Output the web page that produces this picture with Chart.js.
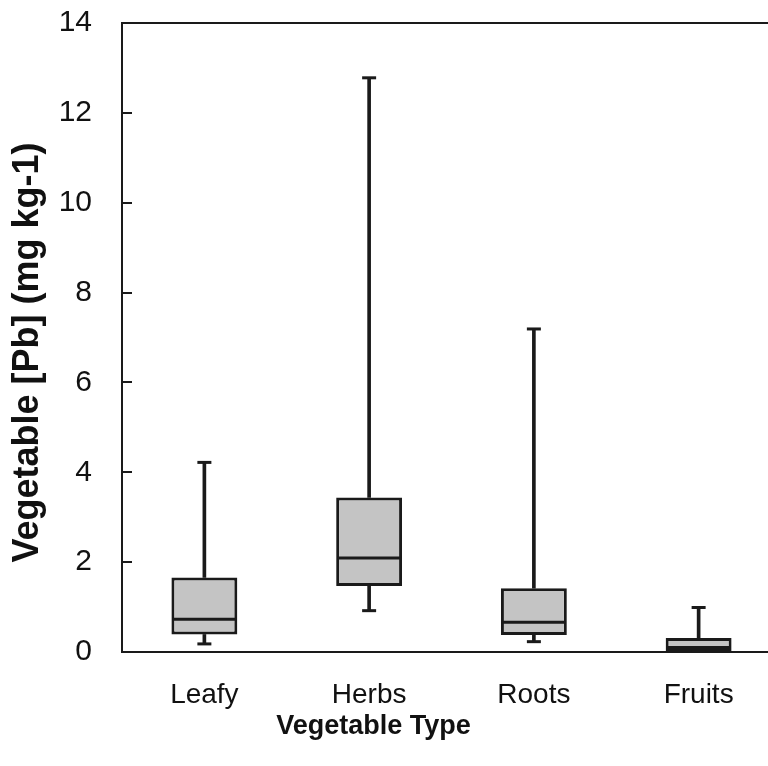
<!DOCTYPE html>
<html>
<head>
<meta charset="utf-8">
<script src="https://cdn.jsdelivr.net/npm/chart.js@4"></script>
<style>
  body { margin: 0; overflow: hidden; background: #fff; }
  #wrap { position: relative; width: 768px; height: 766px; overflow: hidden; }
  #xTitle {
    position: absolute; left: 0; width: 747px; top: 712px;
    text-align: center; font: bold 27px "Liberation Sans", Arial, sans-serif;
    line-height: 27px; color: #111;
  }
</style>
</head>
<body>
<div id="wrap">
  <canvas id="chart" width="781" height="766"></canvas>
  <div id="xTitle">Vegetable Type</div>
</div>
<script>
// box plot values
const categories = ["Leafy", "Herbs", "Roots", "Fruits"];
const whiskerMin = [0.18, 0.92, 0.23, 0.0];
const q1 = [0.39, 1.47, 0.38, 0.01];
const median = [0.73, 2.09, 0.66, 0.1];
const q3 = [1.66, 3.44, 1.42, 0.31];
const whiskerMax = [4.22, 12.78, 7.19, 0.99];
const yTicks = [0, 2, 4, 6, 8, 10, 12, 14];

const ink = "#1a1a1a";
const fontFamily = '"Liberation Sans", Arial, sans-serif';

// inward tick marks on the y axis and the top frame line
const framePlugin = {
    id: "frame",
    afterDraw(chart) {
        let ctx = chart.ctx;
        let area = chart.chartArea;
        let y = chart.scales.y;
        ctx.save();
        ctx.strokeStyle = ink;
        ctx.lineWidth = 2;
        ctx.beginPath();
        y.ticks.forEach(function (t) {
            let py = Math.round(y.getPixelForValue(t.value));
            ctx.moveTo(area.left, py);
            ctx.lineTo(area.left + 10, py);
        });
        ctx.moveTo(area.left - 1, area.top);
        ctx.lineTo(area.right, area.top);
        ctx.stroke();
        ctx.restore();
    }
};

let ctx = document.getElementById("chart").getContext("2d");

new Chart(ctx, {
    type: "bar",
    data: {
        labels: categories,
        datasets: [
            {
                label: "Box",
                data: categories.map((c, i) => [q1[i], q3[i]]),
                backgroundColor: "#c4c4c4",
                borderColor: ink,
                borderWidth: 3,
                borderSkipped: false,
                barPercentage: 0.4,
                categoryPercentage: 1,
                grouped: false,
                order: 2
            },
            {
                label: "Upper whisker",
                data: categories.map((c, i) => [q3[i], whiskerMax[i]]),
                backgroundColor: ink,
                borderWidth: 0,
                barThickness: 3,
                grouped: false,
                order: 3
            },
            {
                label: "Lower whisker",
                data: categories.map((c, i) => [whiskerMin[i], q1[i]]),
                backgroundColor: ink,
                borderWidth: 0,
                barThickness: 3,
                grouped: false,
                order: 3
            },
            {
                type: "line",
                label: "Max",
                data: whiskerMax,
                showLine: false,
                pointStyle: "line",
                pointRadius: 7,
                pointBorderWidth: 3,
                pointBorderColor: ink,
                order: 1
            },
            {
                type: "line",
                label: "Min",
                data: whiskerMin,
                showLine: false,
                pointStyle: "line",
                pointRadius: 7,
                pointBorderWidth: 3,
                pointBorderColor: ink,
                order: 1
            },
            {
                type: "line",
                label: "Median",
                data: median,
                showLine: false,
                pointStyle: "line",
                pointRadius: 32,
                pointBorderWidth: 3,
                pointBorderColor: ink,
                order: 0
            }
        ]
    },
    options: {
        responsive: false,
        animation: false,
        devicePixelRatio: 1,
        layout: { autoPadding: false, padding: { top: 23, left: 0, right: 0, bottom: 0 } },
        plugins: {
            legend: { display: false },
            tooltip: { enabled: false }
        },
        scales: {
            x: {
                offset: true,
                grid: { display: false, drawTicks: false },
                border: { display: true, color: ink, width: 2 },
                ticks: {
                    color: "#111",
                    padding: 26,
                    font: { family: fontFamily, size: 28 }
                },
                afterFit: function (scale) {
                    scale.height = 114;
                    scale.paddingLeft = 0;
                    scale.paddingRight = 0;
                }
            },
            y: {
                min: 0,
                max: 14,
                afterBuildTicks: function (scale) {
                    scale.ticks = yTicks.map(v => ({ value: v }));
                },
                grid: { drawOnChartArea: false, drawTicks: false },
                border: { display: true, color: ink, width: 2 },
                ticks: {
                    color: "#111",
                    padding: 30,
                    font: { family: fontFamily, size: 30 }
                },
                title: {
                    display: true,
                    text: "Vegetable [Pb] (mg kg-1)   ",
                    color: "#111",
                    padding: { top: 6, bottom: 0 },
                    font: { family: fontFamily, size: 36, weight: "bold" }
                },
                afterFit: function (scale) {
                    scale.width = 122;
                    scale.paddingTop = 0;
                    scale.paddingBottom = 0;
                }
            }
        }
    },
    plugins: [framePlugin]
});
</script>
</body>
</html>
